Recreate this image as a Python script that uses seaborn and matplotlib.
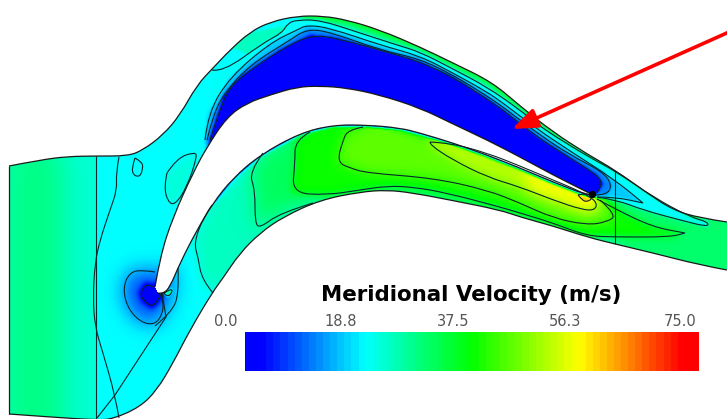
import numpy as np
import matplotlib
matplotlib.use("Agg")
import matplotlib.pyplot as plt
import seaborn as sns
from matplotlib.colors import LinearSegmentedColormap
from matplotlib.patches import PathPatch
from matplotlib.path import Path

W, H = 727, 419

# walls and blade (pixel coordinates)
upper_wall = [(9,166),(40,160),(67,156.5),(95,156),(128,156),(143,150),(163,135),(180,115),(197,85),(213,68),(230,50),(250,32),(270,22),(297,16),(323,16),(347,20),(380,30),(420,47),(453,63),(492,82),(520,106),(553,132),(587,154),(615,170),(647,193),(673,210),(700,218),(727,222)]
lower_wall = [(727,270),(700,265),(653,253),(615,244),(587,237),(553,226),(520,217),(500,210),(450,200),(413,193),(387,190),(360,192),(320,200),(283,217),(260,233),(240,253),(223,278),(212,293),(190,330),(173,363),(157,390),(140,407),(113,419),(97,420),(50,417),(9,414)]
blade_top = [(155,287),(160,257),(173,217),(193,173),(207,147),(227,117),(247,103),(270,95),(297,87),(320,86),(347,88),(380,95),(420,108),(453,124),(487,140),(520,157),(553,175),(587,192),(593,195)]
blade_bottom = [(593,195),(587,195),(553,182),(520,168),(487,155),(453,143),(420,133),(400,128),(367,125),(333,125),(300,133),(260,155),(233,178),(213,203),(197,230),(180,263),(170,287),(163,294),(157,293)]

# contour lines
inlet_line = [(95.5,156),(95.5,420)]
exit_line = [(615,170),(615,244)]
c_left = [(119,157),(116,173),(117,190),(110,210),(100,240),(95,263),(93,297),(95,327),(103,353),(115,395),(119,418)]
c_small = [(135,158),(142,162),(143,168),(140,177),(133,175),(132,167),(135,158)]
c_bubble = [(167,173),(177,158),(195,152),(197,157),(187,187),(175,205),(168,202),(164,187),(167,173)]
c_le_outer = [(155,272),(143,270),(130,272),(123,287),(127,307),(140,322),(155,325),(163,313),(163,300),(160,293)]
c_le_inner = [(153,287),(147,283),(140,293),(143,300),(152,307),(158,300),(162,293)]
c_le_spot = [(164,293),(172,288),(172,293),(167,297),(164,293)]
c_le_side = [(178,268),(179,293),(172,312),(155,326)]
c_diag = [(162,293),(166,317),(166,317),(115,395),(115,395),(97,418)]
c_f1 = [(263,153),(249,172),(255,190),(255,223),(260,228),(280,213),(313,203)]
c_f2 = [(212,205),(203,218),(194,243),(198,257),(202,280),(213,293)]
c_g = [(310,132),(295,140),(295,163),(292,193),(327,195),(360,190),(387,186),(413,187),(447,193),(500,207),(520,213),(553,223),(587,236),(615,237),(670,237),(685,233),(685,233),(653,227),(617,210),(597,199)]
c_h = [(363,127),(348,130),(343,140),(337,162),(350,168),(367,173),(433,178),(487,190),(520,203),(553,218),(587,225),(607,222),(617,215),(600,200)]
c_i = [(430,142),(450,143),(487,153),(520,166),(553,180),(577,190),(590,197),(597,203),(595,210),(583,210),(553,200),(520,187),(487,177),(453,160),(430,145),(430,142)]
c_y = [(578,195),(587,193),(593,198),(587,202),(582,200),(578,195)]
c1 = [(212,70),(223,72),(263,43),(282,33),(288,23),(297,20),(320,20),(357,32),(397,45),(420,52),(453,69),(487,87),(520,110),(537,124),(553,135),(587,156),(617,172),(653,197),(690,217),(708,222),(708,227),(680,220),(643,210),(617,200),(597,197)]
c2 = [(205,140),(208,113),(230,77),(270,43),(297,30),(307,25),(330,28),(380,45),(420,56),(453,73),(487,92),(503,103),(537,129),(570,151),(615,180),(643,203),(643,203),(615,197),(597,197)]
c3 = [(207,140),(213,115),(225,92),(250,65),(290,40),(307,29),(330,32),(380,50),(420,59),(453,75),(487,96),(503,107),(537,133),(570,155),(603,172),(612,185),(607,195),(595,195)]
c4 = [(210,140),(223,97),(240,77),(280,50),(310,35),(337,38),(397,55),(420,62),(453,77),(487,99),(503,110),(537,137),(570,158),(597,175),(603,184),(597,193)]
contour_lines = [inlet_line, exit_line, c_left, c_small, c_bubble, c_le_outer, c_le_inner, c_le_spot, c_le_side, c_diag,
                 c_f1, c_f2, c_g, c_h, c_i, c_y, c1, c2, c3, c4]

# velocity zones, painted in order: polygon, m/s, edge softness
blade_back = blade_bottom[:14]
zones = [
    ([(-5,150),(96,150),(96,425),(-5,425)], 22.5, 1),
    ([(-5,150),(70,150),(70,425),(-5,425)], 26, 14),
    ([(15,150),(55,150),(55,425),(15,425)], 28, 10),
    ([(615,160),(740,210),(740,285),(600,255)], 30, 7),
    ([(197,152),(195,152),(167,173),(164,187),(168,202),(175,205),(187,187)], 22, 3),
    ([(194,243),(203,218),(212,200),(300,125),(600,185),(620,250),(500,222),(360,200),(280,225),(213,293),(202,280),(198,257)], 24, 6),
    ([(263,150),(249,172),(255,190),(255,223),(260,228),(280,213),(313,203),(330,205),(600,250),(600,190),(330,115)], 31, 10),
    ([(310,132),(295,140),(295,163),(292,193),(327,195),(360,190),(387,186),(413,187),(447,193),(500,207),(520,213),(553,223),(587,236),(615,237),(670,237),(685,233),(653,227),(617,210),(597,190),(330,115)], 38, 4),
    ([(363,127),(348,130),(343,140),(337,162),(350,168),(367,173),(433,178),(487,190),(520,203),(553,218),(587,225),(607,222),(617,215),(600,195),(370,115)], 44, 6),
    ([(430,130),(430,145),(453,160),(487,177),(520,187),(553,200),(583,210),(595,210),(597,203),(597,190)], 50, 5),
    ([(520,160),(530,190),(590,212),(600,205),(597,190)], 55, 7),
    ([(578,195),(587,190),(593,198),(587,202),(582,200)], 60, 2),
    ([(212,40),(420,0),(740,150),(727,222),(643,210)] , 24, 1),
    ([(300,19),(347,24),(420,50),(487,84),(553,136),(617,176),(700,225),(700,120),(420,0),(300,0)], 35, 3),
    (c1 + blade_back, 20, 1.5),
    (c2 + blade_back, 16, 1.5),
    (c3 + blade_back, 11, 1.5),
    (c4 + blade_back, 0, 1.5),
    ([(175,268),(155,272),(143,270),(130,272),(123,287),(127,307),(140,322),(155,325),(163,313),(170,300)], 7, 10),
    ([(165,278),(153,284),(145,282),(138,293),(142,302),(152,309),(160,302),(165,293)], 0, 2.5),
    (c_le_spot, 26, 1),
]

ticks = ["0.0", "18.8", "37.5", "56.3", "75.0"]
tick_x = [226, 341, 453, 565, 680]
cbar_values = np.linspace(0, 75, 64)

meridional = LinearSegmentedColormap.from_list("meridional", [
    (0.0, "#0000ff"), (0.03, "#0000ff"), (0.26, "#00ffff"), (0.5, "#00ff00"),
    (0.74, "#ffff00"), (0.97, "#ff0000"), (1.0, "#ff0000")], N=512)

yy, xx = np.mgrid[0:H, 0:W]
grid = np.column_stack([xx.ravel() + 0.5, yy.ravel() + 0.5])


def curve(pts):
    # quadratic path through the midpoints, the read points are its control points
    pts = np.array(pts, dtype=float)
    if len(pts) == 2:
        return Path(pts, [Path.MOVETO, Path.LINETO])
    verts = [pts[0]]
    codes = [Path.MOVETO]
    for i in range(1, len(pts) - 1):
        end = pts[-1] if i == len(pts) - 2 else (pts[i] + pts[i + 1]) / 2
        verts += [pts[i], end]
        codes += [Path.CURVE3, Path.CURVE3]
    return Path(verts, codes)


def inside(path):
    return path.contains_points(grid).reshape(H, W)


def soften(mask, sigma):
    # gaussian edge so that zones run into each other
    r = int(3 * sigma) + 1
    kernel = np.exp(-0.5 * (np.arange(-r, r + 1) / sigma) ** 2)
    kernel /= kernel.sum()
    out = np.pad(mask.astype(float), r, mode="edge")
    out = np.apply_along_axis(np.convolve, 0, out, kernel, mode="same")
    out = np.apply_along_axis(np.convolve, 1, out, kernel, mode="same")
    return out[r:-r, r:-r]


field = np.full((H, W), 19.5)
for poly, value, sigma in zones:
    m = soften(inside(Path(poly)), sigma)
    field = field * (1 - m) + value * m

outer = upper_wall + [upper_wall[-1]] + [lower_wall[0]] + lower_wall + [lower_wall[-1], upper_wall[0]]
blade = blade_top + blade_bottom + [blade_top[0]]
domain = inside(curve(outer)) & ~inside(curve(blade))

fig = plt.figure(figsize=(W / 100, H / 100), dpi=100)
ax = fig.add_axes([0, 0, 1, 1])
sns.heatmap(field, mask=~domain, cmap=meridional, vmin=0, vmax=75, cbar=False,
            xticklabels=False, yticklabels=False, ax=ax)

for line in contour_lines:
    ax.add_patch(PathPatch(curve(line), fill=False, edgecolor="#06282a", linewidth=0.8))
for line in [upper_wall, lower_wall, blade_top, blade_bottom, [(9, 166), (9, 414)]]:
    ax.add_patch(PathPatch(curve(line), fill=False, edgecolor="#1a1a1a", linewidth=0.9))
ax.scatter([592], [194], s=18, color="black", marker="o", zorder=5)

ax.annotate("", xy=(512, 129), xytext=(729, 32),
            arrowprops=dict(arrowstyle="-|>,head_length=0.85,head_width=0.33", color="#ff0000", lw=2.6,
                            mutation_scale=18, shrinkA=0, shrinkB=0))

ax.text(471.5, 295, "Meridional Velocity (m/s)", ha="center", va="center", fontsize=15.4,
        fontweight="bold", color="#000000")
for label, x in zip(ticks, tick_x):
    ax.text(x, 321, label, ha="center", va="center", fontsize=10.5, color="#555555")

ax.set_xlim(0, W)
ax.set_ylim(H, 0)

cax = fig.add_axes([245 / W, 1 - 371 / H, 454 / W, 39 / H])
sns.heatmap([cbar_values], cmap=meridional, vmin=0, vmax=75, cbar=False,
            xticklabels=False, yticklabels=False, ax=cax)

fig.savefig("out.png", dpi=100)
plt.close(fig)
